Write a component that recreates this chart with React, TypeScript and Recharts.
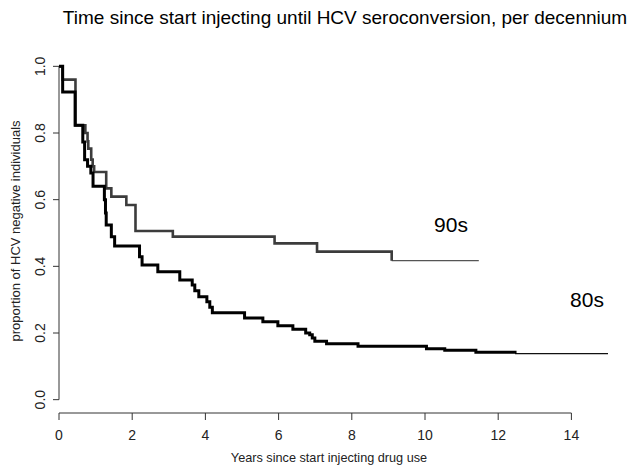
import { Line, LineChart, ReferenceLine, XAxis, YAxis } from 'recharts';

const FONT = '"Liberation Sans", Arial, sans-serif';

// Kaplan-Meier steps (time in years, proportion HCV negative)
const times80 = [
  0, 0.1, 0.44, 0.65, 0.7, 0.78, 0.87, 0.93, 1.24, 1.27, 1.29, 1.43, 1.52, 2.2, 2.27, 2.7, 3.3, 3.64,
  3.71, 3.82, 4.04, 4.12, 4.19, 5.07, 5.57, 5.98, 6.39, 6.74, 6.85, 6.92, 6.99, 7.31, 8.17, 10.04,
  10.54, 11.39, 12.46,
];
const surv80 = [
  1.0, 0.923, 0.823, 0.773, 0.72, 0.7, 0.68, 0.64, 0.6, 0.56, 0.524, 0.489, 0.461, 0.429, 0.404,
  0.384, 0.359, 0.344, 0.327, 0.309, 0.294, 0.277, 0.261, 0.245, 0.234, 0.222, 0.211, 0.2, 0.195,
  0.185, 0.175, 0.168, 0.16, 0.153, 0.148, 0.142, 0.138,
];
const tail80Times = [12.46, 15.0];
const tail80Surv = [0.138, 0.138];

const times90 = [
  0, 0.1, 0.45, 0.72, 0.78, 0.8, 0.88, 0.92, 0.96, 1.29, 1.43, 1.84, 2.09, 3.11, 5.89, 7.05, 9.09,
];
const surv90 = [
  1.0, 0.96, 0.823, 0.8, 0.775, 0.753, 0.72, 0.7, 0.683, 0.634, 0.609, 0.584, 0.506, 0.489, 0.469,
  0.444, 0.417,
];
const tail90Times = [9.09, 11.47];
const tail90Surv = [0.417, 0.417];

const xTicks = [0, 2, 4, 6, 8, 10, 12, 14];
const yTicks = [0, 0.2, 0.4, 0.6, 0.8, 1.0];

const toPoints = (ts: number[], vs: number[]) => ts.map((t, i) => ({ t, v: vs[i] }));

const km80 = toPoints(times80, surv80);
const km80Tail = toPoints(tail80Times, tail80Surv);
const km90 = toPoints(times90, surv90);
const km90Tail = toPoints(tail90Times, tail90Surv);

function XTick({ x, payload }: any) {
  return (
    <text x={x} y={440} textAnchor="middle" fontSize={14} fill="#222" fontFamily={FONT}>
      {payload.value}
    </text>
  );
}

function YTick({ y, payload }: any) {
  return (
    <text
      x={45}
      y={y}
      transform={`rotate(-90, 45, ${y})`}
      textAnchor="middle"
      fontSize={14}
      fill="#222"
      fontFamily={FONT}
    >
      {payload.value.toFixed(1)}
    </text>
  );
}

export default function App() {
  return (
    <div style={{ position: 'absolute', left: 0, top: 0, width: 628, height: 466, background: '#fff' }}>
      <LineChart width={628} height={466} margin={{ top: 53, right: 20, bottom: 0, left: 0 }}>
        <XAxis
          type="number"
          dataKey="t"
          domain={[0, 15]}
          ticks={xTicks}
          height={53}
          axisLine={false}
          tickSize={7}
          tickLine={{ stroke: '#333' }}
          tick={<XTick />}
          interval={0}
        />
        <YAxis
          type="number"
          domain={[-0.04, 1.04]}
          ticks={yTicks}
          width={59}
          axisLine={false}
          tickSize={6}
          tickLine={{ stroke: '#333' }}
          tick={<YTick />}
          interval={0}
        />
        <ReferenceLine segment={[{ x: 0, y: -0.04 }, { x: 14, y: -0.04 }]} stroke="#333" strokeWidth={1} />
        <ReferenceLine segment={[{ x: 0, y: 0 }, { x: 0, y: 1 }]} stroke="#333" strokeWidth={1} />
        <Line data={km90Tail} dataKey="v" type="stepAfter" stroke="#555" strokeWidth={1.4} dot={false} isAnimationActive={false} />
        <Line data={km80Tail} dataKey="v" type="stepAfter" stroke="#111" strokeWidth={1.4} dot={false} isAnimationActive={false} />
        <Line data={km90} dataKey="v" type="stepAfter" stroke="#3c3c3c" strokeWidth={2.6} dot={false} isAnimationActive={false} />
        <Line data={km80} dataKey="v" type="stepAfter" stroke="#000" strokeWidth={3} dot={false} isAnimationActive={false} />
      </LineChart>
      <svg
        width={628}
        height={466}
        style={{ position: 'absolute', left: 0, top: 0, pointerEvents: 'none' }}
        fontFamily={FONT}
      >
        <text x={345} y={24} textAnchor="middle" fontSize={19} fill="#000">
          Time since start injecting until HCV seroconversion, per decennium
        </text>
        <text x={329} y={462} textAnchor="middle" fontSize={12.7} fill="#222">
          Years since start injecting drug use
        </text>
        <text x={19.5} y={231} transform="rotate(-90, 19.5, 231)" textAnchor="middle" fontSize={13} fill="#222">
          proportion of HCV negative individuals
        </text>
        <text x={451} y={232} textAnchor="middle" fontSize={21} fill="#000">
          90s
        </text>
        <text x={587} y={307} textAnchor="middle" fontSize={21} fill="#000">
          80s
        </text>
      </svg>
    </div>
  );
}
